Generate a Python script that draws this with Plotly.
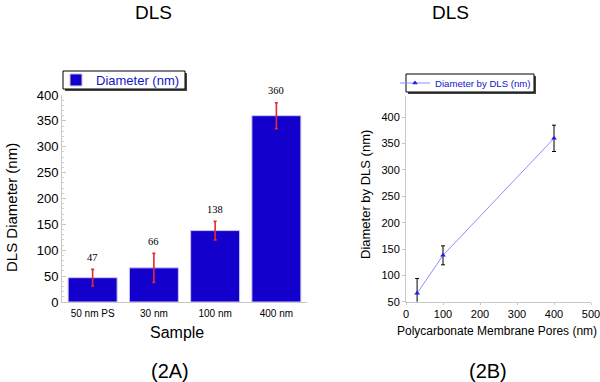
import plotly.graph_objects as go

# ---- data ----
samples = ["50 nm PS", "30 nm", "100 nm", "400 nm"]
diameters = [47, 66, 138, 360]
errors = [16, 28, 18, 25]
value_labels = ["47", "66", "138", "360"]

pores = [30, 100, 400]
dls_diam = [66, 138, 360]
dls_err = [28, 18, 25]

W, H = 600, 382
L, R, T, B = 40, 5, 20, 20
PW, PH = W - L - R, H - T - B
def px(x): return (x - L) / PW
def py(y): return 1 - (y - T) / PH

fig = go.Figure()

fig.add_trace(go.Bar(
    x=samples, y=diameters, name="Diameter (nm)",
    marker=dict(color="rgb(20,0,204)", line=dict(color="rgb(200,200,240)", width=1)),
    error_y=dict(type="data", array=errors, color="rgb(230,40,50)", thickness=1.6, width=1.5),
    xaxis="x", yaxis="y", legend="legend", showlegend=True,
))
fig.add_trace(go.Scatter(
    x=pores, y=dls_diam, name="Diameter by DLS (nm)", mode="lines+markers",
    line=dict(color="rgb(140,140,255)", width=1),
    marker=dict(symbol="triangle-up", size=5, color="rgb(30,30,230)"),
    error_y=dict(type="data", array=dls_err, color="black", thickness=1, width=2),
    xaxis="x2", yaxis="y2", legend="legend2", showlegend=True, cliponaxis=False,
))

def ann(text, x, y, size, angle=0, family="Arial"):
    return dict(text=text, x=px(x), y=py(y), xref="paper", yref="paper", showarrow=False,
                xanchor="center", yanchor="middle", textangle=angle,
                font=dict(size=size, family=family, color="black"))

annotations = [
    ann("DLS", 153, 12, 19),
    ann("DLS", 450, 12, 19),
    ann("DLS Diameter (nm)", 11, 208, 15, -90),
    ann("Sample", 177, 332, 16),
    ann("(2A)", 170, 371, 20),
    ann("Diameter by DLS (nm)", 365, 195, 13, -90),
    ann("Polycarbonate Membrane Pores (nm)", 497, 331, 12),
    ann("(2B)", 488, 371, 20),
]
for s, d, e, t in zip(samples, diameters, errors, value_labels):
    annotations.append(dict(text=t, x=s, y=d + e, xref="x", yref="y", showarrow=False,
                            xanchor="center", yanchor="middle", yshift=12,
                            font=dict(family="Liberation Serif", size=10.5, color="black")))

fig.update_layout(
    width=W, height=H, margin=dict(l=L, r=R, t=T, b=B, autoexpand=False),
    paper_bgcolor="white", plot_bgcolor="white",
    font=dict(family="Arial", color="black"),
    bargap=0.2, showlegend=True,
    xaxis=dict(domain=[px(62), px(307)], anchor="y", showline=True, linecolor="#c8c8c8",
               ticks="", showgrid=False, automargin=False,
               tickfont=dict(family="Arial", size=10), ticklabelstandoff=2),
    yaxis=dict(domain=[py(302), py(95)], anchor="x", range=[0, 400], dtick=50,
               showline=True, linecolor="#c8c8c8", showgrid=False, zeroline=False,
               ticks="inside", ticklen=4, tickcolor="#c8c8c8", automargin=False,
               minor=dict(dtick=10, ticks="inside", ticklen=2, tickcolor="#d0d0d0"),
               tickfont=dict(family="Arial", size=13)),
    xaxis2=dict(domain=[px(406), px(591)], anchor="y2", range=[0, 500], dtick=100,
                showline=True, linecolor="#c8c8c8", showgrid=False, zeroline=False,
                ticks="outside", ticklen=2, tickcolor="#c8c8c8", automargin=False,
                ticklabeloverflow="allow",
                tickfont=dict(family="Arial", size=11)),
    yaxis2=dict(domain=[py(301.7), py(96.2)], anchor="x2", range=[50, 440],
                tickvals=[50, 100, 150, 200, 250, 300, 350, 400],
                showline=True, linecolor="#c8c8c8", showgrid=False, zeroline=False,
                ticks="outside", ticklen=3, tickcolor="#c8c8c8", automargin=False,
                ticklabeloverflow="allow",
                tickfont=dict(family="Arial", size=11)),
    legend=dict(x=px(56), y=py(80), xanchor="left", yanchor="middle", visible=True,
                bgcolor="rgba(0,0,0,0)", borderwidth=0,
                font=dict(family="Arial", size=13, color="rgb(20,20,200)"),
                itemwidth=30, tracegroupgap=0),
    legend2=dict(x=px(395), y=py(83), xanchor="left", yanchor="middle", visible=True,
                 bgcolor="rgba(0,0,0,0)", borderwidth=0,
                 font=dict(family="Arial", size=9.6, color="rgb(20,20,200)"),
                 itemwidth=30, tracegroupgap=0),
    shapes=[
        dict(type="rect", xref="paper", yref="paper", x0=px(65), x1=px(187), y0=py(91), y1=py(73),
             fillcolor="#444", line=dict(width=0), layer="above"),
        dict(type="rect", xref="paper", yref="paper", x0=px(63), x1=px(185), y0=py(89), y1=py(71),
             fillcolor="white", line=dict(color="black", width=1), layer="above"),
        dict(type="rect", xref="paper", yref="paper", x0=px(408), x1=px(536), y0=py(94), y1=py(76),
             fillcolor="#444", line=dict(width=0), layer="above"),
        dict(type="rect", xref="paper", yref="paper", x0=px(406), x1=px(534), y0=py(92), y1=py(74),
             fillcolor="white", line=dict(color="black", width=1), layer="above"),
    ],
    annotations=annotations,
)

fig.write_html("out.html", config={"displayModeBar": False},
               post_script="document.body.style.margin='0px';")
